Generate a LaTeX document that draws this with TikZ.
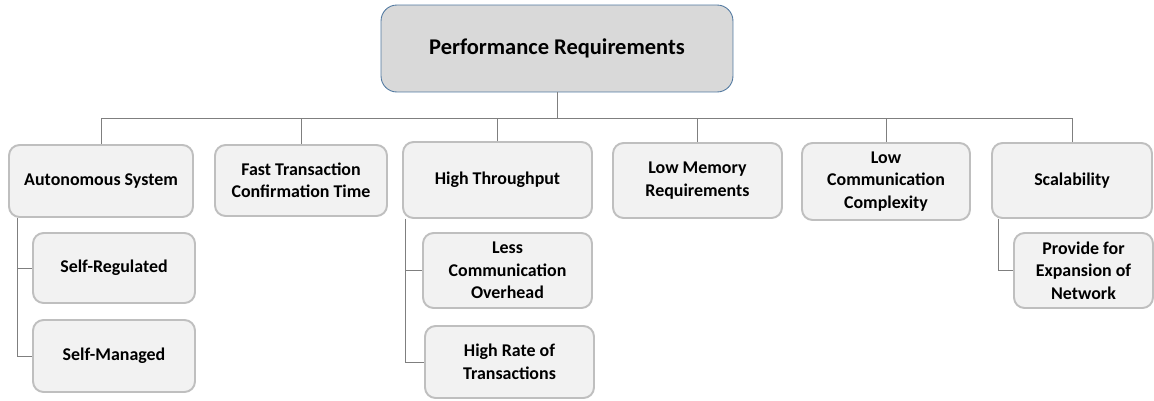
\documentclass[tikz,border=0pt]{standalone}
\usepackage{fontspec}
\setmainfont{Carlito}
\usetikzlibrary{positioning}
\definecolor{boxfill}{RGB}{242,242,242}
\definecolor{boxline}{RGB}{191,191,191}
\definecolor{headfill}{RGB}{217,217,217}
\definecolor{headline}{RGB}{80,120,160}
\definecolor{wire}{RGB}{127,127,127}
\tikzset{
  req/.style={draw=boxline,fill=boxfill,line width=1.1pt,rounded corners=6pt,
    align=center,font=\fontsize{10.2}{12.8}\selectfont\bfseries,inner sep=2pt},
  head/.style={draw=headline,fill=headfill,line width=0.5pt,rounded corners=9pt,
    align=center,font=\fontsize{12.8}{15}\selectfont\bfseries,
    minimum width=7.04cm,minimum height=1.74cm},
  wireline/.style={draw=wire,line width=0.5pt}
}
\begin{document}
\begin{tikzpicture}[x=0.02cm,y=-0.02cm]
  \useasboundingbox (0,0) rectangle (1154,400);
  % top
  \node[head] (perf) at (557,48.5) {Performance Requirements};
  \coordinate (bus) at (557,118);
  % first level
  \node[req,minimum width=3.68cm,minimum height=1.44cm] (auto) at (101,181) {Autonomous System};
  \node[req,minimum width=3.44cm,minimum height=1.42cm] (fast) at (301,180.5) {Fast Transaction\\Confirmation Time};
  \node[req,minimum width=3.78cm,minimum height=1.52cm] (thru) at (497.5,180) {High Throughput};
  \node[req,minimum width=3.38cm,minimum height=1.50cm] (mem) at (697.5,180.5) {Low Memory\\Requirements};
  \node[req,minimum width=3.36cm,minimum height=1.54cm] (comm) at (886,181.5) {Low\\Communication\\Complexity};
  \node[req,minimum width=3.20cm,minimum height=1.50cm] (scal) at (1072,180.5) {Scalability};
  % second level
  \node[req,minimum width=3.24cm,minimum height=1.40cm] (selfreg) at (114,268) {Self-Regulated};
  \node[req,minimum width=3.24cm,minimum height=1.44cm] (selfman) at (114,356) {Self-Managed};
  \node[req,minimum width=3.38cm,minimum height=1.50cm] (overhead) at (507.5,270.5) {Less\\Communication\\Overhead};
  \node[req,minimum width=3.38cm,minimum height=1.44cm] (rate) at (509.5,362) {High Rate of\\Transactions};
  \node[req,minimum width=2.78cm,minimum height=1.50cm] (expand) at (1083.5,270.5) {Provide for\\Expansion of\\Network};
  % connectors
  \draw[wireline] (perf.south) -- (bus);
  \foreach \n in {auto,fast,thru,mem,comm,scal}{
    \draw[wireline] (\n.north) |- (bus);
  }
  \draw[wireline] ([xshift=0.18cm]auto.south west) |- (selfreg.west);
  \draw[wireline] ([xshift=0.18cm]auto.south west) |- (selfman.west);
  \draw[wireline] ([xshift=0.06cm]thru.south west) |- (overhead.west);
  \draw[wireline] ([xshift=0.06cm]thru.south west) |- (rate.west);
  \draw[wireline] ([xshift=0.14cm]scal.south west) |- (expand.west);
\end{tikzpicture}
\end{document}
